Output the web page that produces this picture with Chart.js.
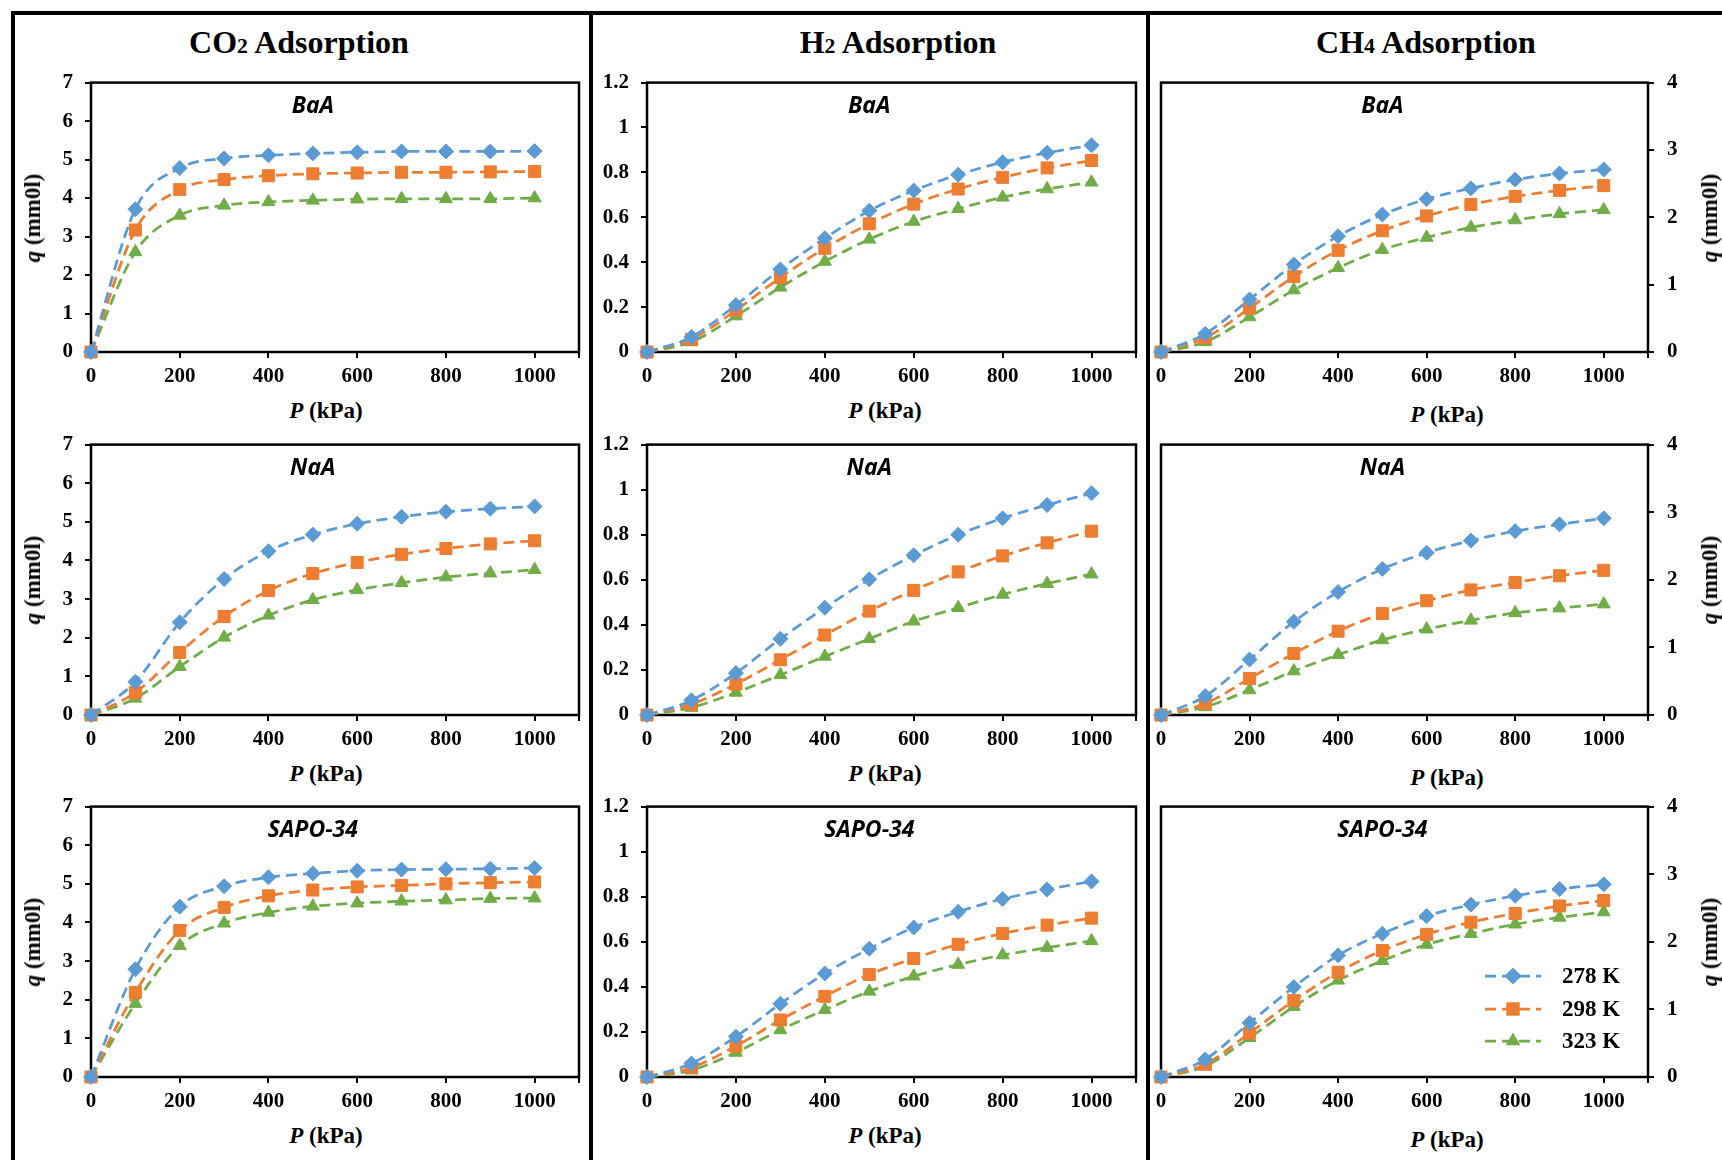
<!DOCTYPE html>
<html>
<head>
<meta charset="utf-8">
<script src="https://cdn.jsdelivr.net/npm/chart.js@4.4.1/dist/chart.umd.min.js"></script>
<style>
  body { margin: 0; background: #fff; }
  #page { position: relative; width: 1722px; height: 1160px; overflow: hidden; background: #fff;
          font-family: "Liberation Serif", "Times New Roman", serif; color: #000; }
  .frame { position: absolute; left: 11px; top: 11px; width: 1800px; height: 1300px;
           border: 4px solid #000; box-sizing: border-box; }
  .divider { position: absolute; top: 11px; width: 4px; height: 1160px; background: #000; }
  .head { position: absolute; font-weight: bold; font-size: 32px; white-space: nowrap;
          transform: translate(-50%, -50%); }
  .head span { font-size: 0.68em; }
  .xt, .yt { position: absolute; font-weight: bold; font-size: 23px; white-space: nowrap; }
  .xt { transform: translate(-50%, -50%); }
  .yt { transform: translate(-50%, -50%) rotate(-90deg); }
  canvas { position: absolute; }
</style>
</head>
<body>
<div id="page">
  <div class="frame"></div>
  <div class="divider" style="left:589px"></div>
  <div class="divider" style="left:1146px"></div>
  <div class="head" style="left:299px; top:42px">CO<span>2</span> Adsorption</div>
  <div class="head" style="left:898px; top:42px">H<span>2</span> Adsorption</div>
  <div class="head" style="left:1426px; top:42px">CH<span>4</span> Adsorption</div>
</div>
<script>
// pressure (kPa) and axis ticks
const pressure = [0, 100, 200, 300, 400, 500, 600, 700, 800, 900, 1000];
const xTicks = [0, 200, 400, 600, 800, 1000];
const co2Ticks = [0, 1, 2, 3, 4, 5, 6, 7];
const h2Ticks = [0, 0.2, 0.4, 0.6, 0.8, 1, 1.2];
const ch4Ticks = [0, 1, 2, 3, 4];
const temps = ['278 K', '298 K', '323 K'];
const sorbents = ['BaA', 'NaA', 'SAPO-34'];

// CO2 uptake q (mmol)
const co2BaA278 = [0, 3.71, 4.78, 5.03, 5.11, 5.16, 5.19, 5.21, 5.21, 5.21, 5.22];
const co2BaA298 = [0, 3.17, 4.22, 4.48, 4.58, 4.63, 4.65, 4.67, 4.67, 4.68, 4.69];
const co2BaA323 = [0, 2.60, 3.55, 3.81, 3.90, 3.94, 3.97, 3.98, 3.98, 3.98, 4.00];
const co2NaA278 = [0, 0.86, 2.40, 3.52, 4.24, 4.67, 4.95, 5.13, 5.26, 5.34, 5.40];
const co2NaA298 = [0, 0.58, 1.62, 2.55, 3.22, 3.66, 3.95, 4.16, 4.31, 4.43, 4.51];
const co2NaA323 = [0, 0.43, 1.25, 2.01, 2.58, 2.98, 3.24, 3.42, 3.57, 3.67, 3.76];
const co2Sapo278 = [0, 2.79, 4.41, 4.94, 5.17, 5.27, 5.34, 5.37, 5.38, 5.39, 5.41];
const co2Sapo298 = [0, 2.19, 3.79, 4.39, 4.69, 4.84, 4.92, 4.96, 5.00, 5.03, 5.05];
const co2Sapo323 = [0, 1.90, 3.40, 3.98, 4.26, 4.42, 4.50, 4.55, 4.58, 4.62, 4.63];

// H2 uptake
const h2BaA278 = [0, 0.067, 0.209, 0.368, 0.507, 0.629, 0.719, 0.790, 0.845, 0.887, 0.921];
const h2BaA298 = [0, 0.057, 0.186, 0.332, 0.462, 0.571, 0.659, 0.726, 0.778, 0.820, 0.853];
const h2BaA323 = [0, 0.045, 0.160, 0.288, 0.403, 0.502, 0.581, 0.638, 0.689, 0.726, 0.756];
const h2NaA278 = [0, 0.065, 0.186, 0.338, 0.476, 0.602, 0.709, 0.800, 0.873, 0.932, 0.984];
const h2NaA298 = [0, 0.048, 0.137, 0.245, 0.355, 0.461, 0.553, 0.635, 0.706, 0.764, 0.816];
const h2NaA323 = [0, 0.033, 0.100, 0.178, 0.260, 0.338, 0.416, 0.476, 0.535, 0.583, 0.625];
const h2Sapo278 = [0, 0.060, 0.179, 0.325, 0.459, 0.569, 0.663, 0.733, 0.790, 0.832, 0.868];
const h2Sapo298 = [0, 0.042, 0.137, 0.253, 0.358, 0.455, 0.526, 0.589, 0.637, 0.674, 0.705];
const h2Sapo323 = [0, 0.030, 0.109, 0.209, 0.298, 0.380, 0.447, 0.499, 0.541, 0.574, 0.604];

// CH4 uptake
const ch4BaA278 = [0, 0.27, 0.78, 1.30, 1.72, 2.04, 2.27, 2.43, 2.56, 2.65, 2.71];
const ch4BaA298 = [0, 0.21, 0.65, 1.12, 1.51, 1.80, 2.02, 2.19, 2.31, 2.40, 2.47];
const ch4BaA323 = [0, 0.15, 0.52, 0.92, 1.25, 1.52, 1.70, 1.85, 1.96, 2.05, 2.11];
const ch4NaA278 = [0, 0.28, 0.82, 1.38, 1.82, 2.16, 2.40, 2.58, 2.72, 2.82, 2.91];
const ch4NaA298 = [0, 0.17, 0.54, 0.91, 1.24, 1.50, 1.69, 1.85, 1.96, 2.06, 2.14];
const ch4NaA323 = [0, 0.12, 0.37, 0.65, 0.89, 1.11, 1.27, 1.40, 1.51, 1.58, 1.64];
const ch4Sapo278 = [0, 0.26, 0.80, 1.33, 1.80, 2.12, 2.38, 2.55, 2.68, 2.78, 2.85];
const ch4Sapo298 = [0, 0.19, 0.65, 1.13, 1.55, 1.87, 2.11, 2.29, 2.42, 2.53, 2.61];
const ch4Sapo323 = [0, 0.16, 0.58, 1.04, 1.43, 1.72, 1.96, 2.12, 2.26, 2.36, 2.44];

const colors = ['#5B9BD5', '#ED7D31', '#70AD47'];
const markers = ['rectRot', 'rect', 'triangle'];
const markerSize = [7.5, 8.5, 7.5];

// layout of the 3x3 grid (page pixels of each plot area)
const columns = [
  { L: 91, R: 579, ticks: co2Ticks, side: 'left', yTitleX: 33, xTitleX: 326,
    series: [[co2BaA278, co2BaA298, co2BaA323], [co2NaA278, co2NaA298, co2NaA323], [co2Sapo278, co2Sapo298, co2Sapo323]] },
  { L: 647, R: 1136, ticks: h2Ticks, side: 'left', yTitleX: null, xTitleX: 885,
    series: [[h2BaA278, h2BaA298, h2BaA323], [h2NaA278, h2NaA298, h2NaA323], [h2Sapo278, h2Sapo298, h2Sapo323]] },
  { L: 1161, R: 1648, ticks: ch4Ticks, side: 'right', yTitleX: 1710, xTitleX: 1447,
    series: [[ch4BaA278, ch4BaA298, ch4BaA323], [ch4NaA278, ch4NaA298, ch4NaA323], [ch4Sapo278, ch4Sapo298, ch4Sapo323]] }
];
const rows = [{ T: 83, B: 352 }, { T: 445, B: 715 }, { T: 807, B: 1077 }];

const page = document.getElementById('page');
const tickFont = { family: '"Liberation Serif", "Times New Roman", serif', size: 21, weight: 'bold' };

function addText(cls, x, y, html) {
  const d = document.createElement('div');
  d.className = cls;
  d.style.left = x + 'px';
  d.style.top = y + 'px';
  d.innerHTML = html;
  page.appendChild(d);
}

function drawMarker(ctx, style, x, y, r) {
  ctx.beginPath();
  if (style === 'rectRot') {
    ctx.moveTo(x, y - r); ctx.lineTo(x + r, y); ctx.lineTo(x, y + r); ctx.lineTo(x - r, y);
  } else if (style === 'rect') {
    const s = r * Math.SQRT1_2;
    ctx.rect(x - s, y - s, 2 * s, 2 * s);
  } else {
    ctx.moveTo(x, y - r); ctx.lineTo(x + r * 0.866, y + r / 2); ctx.lineTo(x - r * 0.866, y + r / 2);
  }
  ctx.closePath();
  ctx.fill();
}

// black box round the plot area
const boxPlugin = {
  id: 'box',
  beforeDatasetsDraw(chart) {
    const a = chart.chartArea, ctx = chart.ctx;
    ctx.save();
    ctx.strokeStyle = '#000';
    ctx.lineWidth = 2.5;
    ctx.strokeRect(a.left, a.top, a.right - a.left, a.bottom - a.top);
    ctx.restore();
  }
};

// sorbent name, centred over 500 kPa
const namePlugin = {
  id: 'panelName',
  afterDraw(chart, args, opts) {
    const ctx = chart.ctx;
    ctx.save();
    ctx.font = 'italic bold 23px "Open Sans", sans-serif';
    ctx.fillStyle = '#000';
    ctx.textAlign = 'center';
    ctx.textBaseline = 'middle';
    ctx.fillText(opts.text, chart.scales.x.getPixelForValue(500), chart.chartArea.top + 24);
    ctx.restore();
  }
};

// line + marker legend (only in one panel)
const legendPlugin = {
  id: 'lineLegend',
  afterDraw(chart, args, opts) {
    if (!opts.show) return;
    const ctx = chart.ctx, a = chart.chartArea;
    const offsets = [101, 68, 36];
    chart.data.datasets.forEach((ds, i) => {
      const y = a.bottom - offsets[i];
      const x0 = a.right - 163, x1 = a.right - 107;
      ctx.save();
      ctx.strokeStyle = ds.borderColor;
      ctx.lineWidth = 2.75;
      ctx.setLineDash([11, 6]);
      ctx.beginPath();
      ctx.moveTo(x0, y);
      ctx.lineTo(x1, y);
      ctx.stroke();
      ctx.fillStyle = ds.backgroundColor;
      drawMarker(ctx, ds.pointStyle, (x0 + x1) / 2, y, ds.pointRadius + 1);
      ctx.font = 'bold 23px "Liberation Serif", serif';
      ctx.fillStyle = '#000';
      ctx.textAlign = 'left';
      ctx.textBaseline = 'middle';
      ctx.fillText(ds.label, a.right - 86, y + 1);
      ctx.restore();
    });
  }
};

columns.forEach((col, c) => {
  rows.forEach((row, r) => {
    const axisW = col.side === 'left' ? 80 : 62;
    const padL = col.side === 'left' ? 0 : 14;
    const padR = col.side === 'left' ? 14 : 0;
    const padT = 12, axisH = 45;
    const canvas = document.createElement('canvas');
    const w = col.R - col.L + axisW + padL + padR;
    const h = row.B - row.T + padT + axisH;
    canvas.width = w;
    canvas.height = h;
    page.appendChild(canvas);

    const datasets = col.series[r].map((vals, i) => ({
      label: temps[i],
      data: pressure.map((p, k) => ({ x: p, y: vals[k] })),
      borderColor: colors[i],
      backgroundColor: colors[i],
      borderWidth: 2.75,
      borderDash: [11, 6],
      pointStyle: markers[i],
      pointRadius: markerSize[i],
      pointBorderWidth: 1,
      pointBorderColor: colors[i],
      pointBackgroundColor: colors[i],
      cubicInterpolationMode: 'monotone',
      clip: false
    }));

    const yMax = col.ticks[col.ticks.length - 1];
    const chart = new Chart(canvas.getContext('2d'), {
      type: 'line',
      data: { datasets: datasets },
      options: {
        responsive: false,
        maintainAspectRatio: false,
        animation: false,
        devicePixelRatio: 1,
        layout: { autoPadding: false, padding: { left: padL, right: padR, top: padT, bottom: 0 } },
        scales: {
          x: {
            type: 'linear',
            min: 0,
            max: 1100,
            afterBuildTicks: s => { s.ticks = xTicks.concat([1100]).map(v => ({ value: v })); },
            afterFit: s => { s.height = axisH; },
            border: { display: false },
            grid: { drawOnChartArea: false, drawTicks: true, tickLength: 6, color: '#000', lineWidth: 2 },
            ticks: { autoSkip: false, maxRotation: 0, padding: 6, color: '#000', font: tickFont,
                     callback: v => v > 1000 ? '' : String(v) }
          },
          y: {
            type: 'linear',
            position: col.side,
            min: 0,
            max: yMax,
            afterBuildTicks: s => { s.ticks = col.ticks.map(v => ({ value: v })); },
            afterFit: s => { s.width = axisW; },
            border: { display: false },
            grid: { drawOnChartArea: false, drawTicks: true, tickLength: 6, color: '#000', lineWidth: 2 },
            ticks: { autoSkip: false, padding: col.side === 'left' ? 12 : 13, color: '#000', font: tickFont,
                     callback: v => String(v) }
          }
        },
        plugins: {
          legend: { display: false },
          tooltip: { enabled: false },
          panelName: { text: sorbents[r] },
          lineLegend: { show: c === 2 && r === 2 }
        }
      },
      plugins: [boxPlugin, namePlugin, legendPlugin]
    });

    // make the plot area exactly the wanted size, then place the canvas
    const a = chart.chartArea;
    const dw = Math.round((col.R - col.L) - (a.right - a.left));
    const dh = Math.round((row.B - row.T) - (a.bottom - a.top));
    if (dw !== 0 || dh !== 0) chart.resize(w + dw, h + dh);
    const a2 = chart.chartArea;
    canvas.style.left = Math.round(col.L - a2.left) + 'px';
    canvas.style.top = Math.round(row.T - a2.top) + 'px';

    const yMid = (row.T + row.B) / 2;
    if (col.yTitleX !== null) addText('yt', col.yTitleX, yMid, '<i>q</i> (mm0l)');
    addText('xt', col.xTitleX, row.B + (col.side === 'left' ? 59 : 63), '<i>P</i> (kPa)');
  });
});
</script>
</body>
</html>
